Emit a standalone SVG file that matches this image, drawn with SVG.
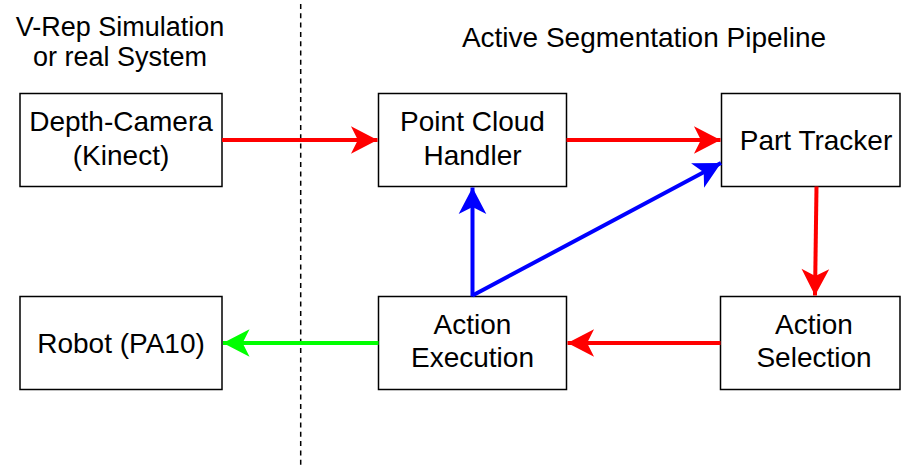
<svg xmlns="http://www.w3.org/2000/svg" width="901" height="468" viewBox="0 0 901 468">
<style>
.box{fill:#fff;stroke:#000;stroke-width:1.5}
.t{font-family:"Liberation Sans",Arial,Helvetica,sans-serif;font-size:28px;fill:#000;text-anchor:middle}
.h{font-family:"Liberation Sans",Arial,Helvetica,sans-serif;fill:#000;text-anchor:middle}
.red{stroke:#ff0000;stroke-width:4;fill:none}
.blue{stroke:#0000ff;stroke-width:4;fill:none}
.green{stroke:#00ff00;stroke-width:4;fill:none}
</style>
<defs>
<marker id="ar" markerUnits="userSpaceOnUse" markerWidth="30" markerHeight="30" viewBox="-24 -13 26 26" refX="0" refY="0" orient="auto"><path d="M0,0 L-23,-12 L-17,0 L-23,12 Z" fill="#ff0000"/></marker>
<marker id="ab" markerUnits="userSpaceOnUse" markerWidth="30" markerHeight="30" viewBox="-24 -13 26 26" refX="0" refY="0" orient="auto"><path d="M0,0 L-23,-12 L-17,0 L-23,12 Z" fill="#0000ff"/></marker>
<marker id="ag" markerUnits="userSpaceOnUse" markerWidth="30" markerHeight="30" viewBox="-24 -13 26 26" refX="0" refY="0" orient="auto"><path d="M0,0 L-23,-12 L-17,0 L-23,12 Z" fill="#00ff00"/></marker>
</defs>
<rect width="901" height="468" fill="#fff"/>
<line x1="300.7" y1="4" x2="300.7" y2="468" stroke="#000" stroke-width="1.5" stroke-dasharray="5 4.3"/>
<text class="h" font-size="27" x="120" y="35.5">V-Rep Simulation</text>
<text class="h" font-size="27" x="120" y="65.5">or real System</text>
<text class="h" font-size="28" x="644" y="47">Active Segmentation Pipeline</text>
<g id="depth-camera"><rect class="box" x="20" y="93.5" width="202" height="93"/><text class="t" x="121" y="131">Depth-Camera</text><text class="t" x="121" y="164.5">(Kinect)</text></g>
<g id="point-cloud-handler"><rect class="box" x="378.5" y="93.5" width="188" height="93"/><text class="t" x="472.5" y="131">Point Cloud</text><text class="t" x="472.5" y="164.5">Handler</text></g>
<g id="part-tracker"><rect class="box" x="721.5" y="93.5" width="178.5" height="93"/><text class="t" x="816" y="149.5">Part Tracker</text></g>
<g id="robot"><rect class="box" x="20" y="296.5" width="202" height="93"/><text class="t" x="121" y="352.5">Robot (PA10)</text></g>
<g id="action-execution"><rect class="box" x="378.5" y="296.5" width="188" height="93"/><text class="t" x="472.5" y="334">Action</text><text class="t" x="472.5" y="367">Execution</text></g>
<g id="action-selection"><rect class="box" x="720.5" y="296.5" width="179.5" height="93"/><text class="t" x="814" y="334">Action</text><text class="t" x="814" y="367">Selection</text></g>
<g id="connectors">
<line class="red" x1="222" y1="140" x2="377.5" y2="140" marker-end="url(#ar)"/>
<line class="red" x1="566.5" y1="140" x2="720.5" y2="140" marker-end="url(#ar)"/>
<line class="red" x1="816.5" y1="186.5" x2="815" y2="295.5" marker-end="url(#ar)"/>
<line class="red" x1="720.5" y1="343" x2="567.5" y2="343" marker-end="url(#ar)"/>
<line class="green" x1="378.5" y1="343" x2="223" y2="343" marker-end="url(#ag)"/>
<line class="blue" x1="472.5" y1="296.5" x2="472.5" y2="187.5" marker-end="url(#ab)"/>
<line class="blue" x1="472.5" y1="295.5" x2="721" y2="163" marker-end="url(#ab)"/>
</g>
</svg>
